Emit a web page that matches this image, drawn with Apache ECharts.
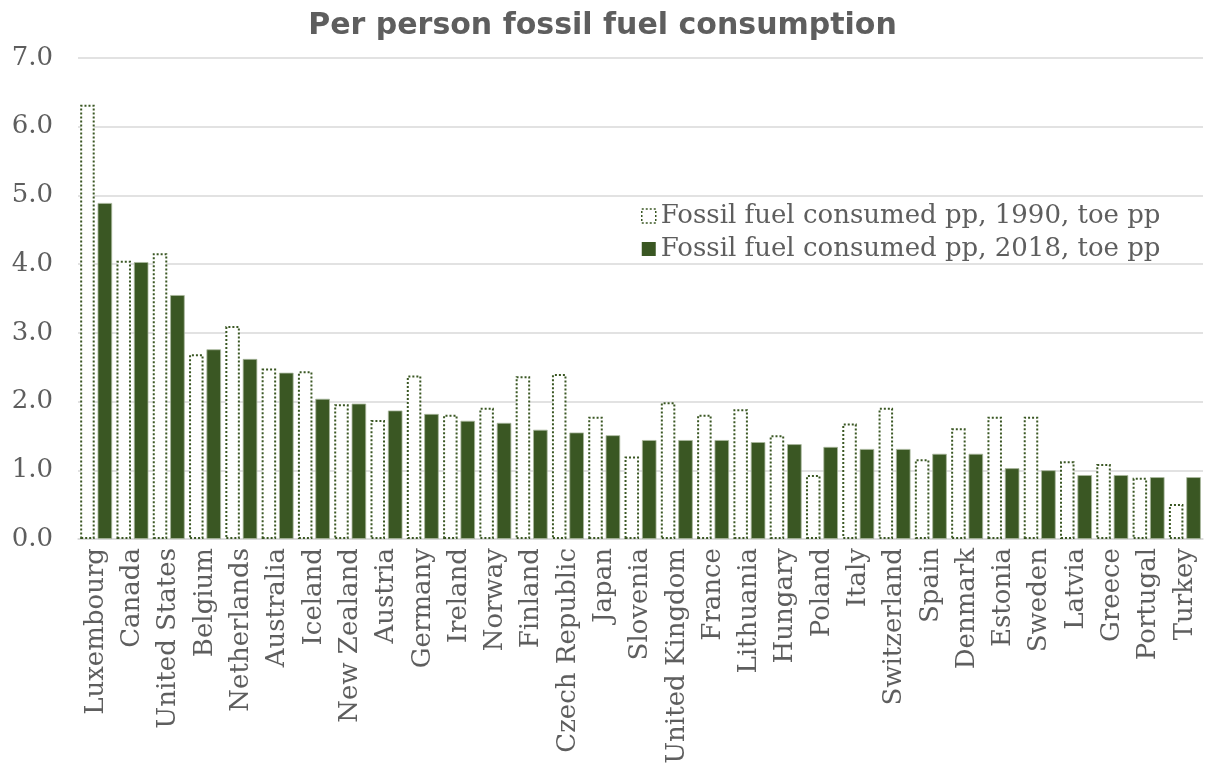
<!DOCTYPE html>
<html>
<head>
<meta charset="utf-8">
<style>
  html, body { margin: 0; padding: 0; background: #ffffff; }
  #chart { width: 1205px; height: 784px; }
</style>
<script src="https://cdn.jsdelivr.net/npm/echarts@6/dist/echarts.min.js"></script>
</head>
<body>
<div id="chart"></div>
<script>
// Countries, ordered by 2018 consumption
const countries = [
  'Luxembourg', 'Canada', 'United States', 'Belgium', 'Netherlands', 'Australia',
  'Iceland', 'New Zealand', 'Austria', 'Germany', 'Ireland', 'Norway', 'Finland',
  'Czech Republic', 'Japan', 'Slovenia', 'United Kingdom', 'France', 'Lithuania',
  'Hungary', 'Poland', 'Italy', 'Switzerland', 'Spain', 'Denmark', 'Estonia',
  'Sweden', 'Latvia', 'Greece', 'Portugal', 'Turkey'
];

// Fossil fuel consumed per person, tonnes of oil equivalent
const consumed1990 = [
  6.32, 4.05, 4.16, 2.69, 3.10, 2.48, 2.44, 1.96, 1.73, 2.38, 1.81, 1.91, 2.37,
  2.40, 1.78, 1.20, 1.99, 1.81, 1.89, 1.51, 0.93, 1.68, 1.91, 1.16, 1.61, 1.78,
  1.78, 1.13, 1.09, 0.89, 0.51
];
const consumed2018 = [
  4.89, 4.03, 3.55, 2.76, 2.62, 2.42, 2.04, 1.97, 1.87, 1.82, 1.72, 1.69, 1.59,
  1.55, 1.51, 1.44, 1.44, 1.44, 1.41, 1.38, 1.34, 1.31, 1.31, 1.24, 1.24, 1.03,
  1.00, 0.93, 0.93, 0.90, 0.90
];

const seriesNames = [
  'Fossil fuel consumed pp, 1990, toe pp',
  'Fossil fuel consumed pp, 2018, toe pp'
];

const green = '#3a5723';
const textGray = '#5e5e5e';
const labelFont = '"DejaVu Serif", serif';
const dots = [2, 2];

const chart = echarts.init(document.getElementById('chart'), null, { renderer: 'canvas' });

chart.setOption({
  animation: false,
  backgroundColor: '#ffffff',
  title: {
    text: 'Per person fossil fuel consumption',
    left: 'center',
    top: 6,
    textStyle: {
      fontFamily: '"DejaVu Sans", sans-serif',
      fontWeight: 'bold',
      fontSize: 30,
      color: textGray
    }
  },
  legend: {
    orient: 'vertical',
    left: 636,
    top: 198,
    icon: 'rect',
    itemWidth: 14,
    itemHeight: 14,
    itemGap: 7,
    textStyle: {
      fontFamily: labelFont,
      fontSize: 26,
      color: textGray
    },
    data: [
      { name: seriesNames[0], itemStyle: { borderType: dots, borderWidth: 1.5 } },
      { name: seriesNames[1], itemStyle: { borderWidth: 0 } }
    ]
  },
  grid: {
    left: 78,
    right: 2,
    top: 58,
    bottom: 245,
    containLabel: false
  },
  xAxis: {
    type: 'category',
    data: countries,
    axisLine: { lineStyle: { color: '#d9d9d9', width: 1.5 } },
    axisTick: { show: false },
    axisLabel: {
      rotate: 90,
      interval: 0,
      margin: 9,
      fontFamily: labelFont,
      fontSize: 26,
      color: textGray
    }
  },
  yAxis: {
    type: 'value',
    min: 0,
    max: 7,
    interval: 1,
    axisLine: { show: false },
    axisTick: { show: false },
    splitLine: { lineStyle: { color: '#d9d9d9', width: 1.5 } },
    axisLabel: {
      margin: 25,
      fontFamily: labelFont,
      fontSize: 26,
      color: textGray,
      formatter: v => v.toFixed(1)
    }
  },
  series: [
    {
      name: seriesNames[0],
      type: 'bar',
      data: consumed1990,
      barGap: '20%',
      barCategoryGap: '12%',
      itemStyle: {
        color: '#ffffff',
        borderColor: green,
        borderWidth: 2,
        borderType: dots
      }
    },
    {
      name: seriesNames[1],
      type: 'bar',
      data: consumed2018,
      barGap: '20%',
      barCategoryGap: '12%',
      itemStyle: {
        color: green,
        borderColor: '#a9b89d',
        borderWidth: 0.8
      }
    }
  ]
});
</script>
</body>
</html>
